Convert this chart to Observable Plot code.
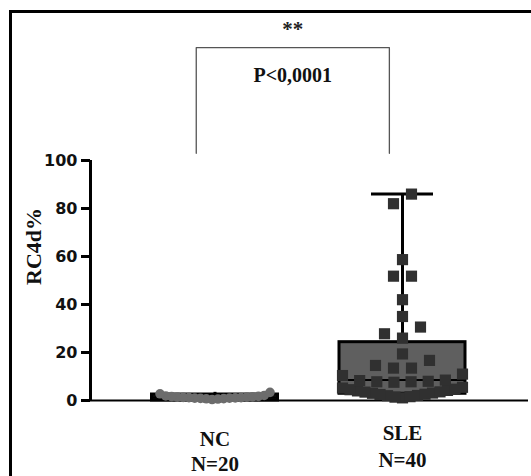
<!DOCTYPE html>
<html>
<head>
<meta charset="utf-8">
<script src="https://cdn.jsdelivr.net/npm/d3@7"></script>
<script src="https://cdn.jsdelivr.net/npm/@observablehq/plot@0.6"></script>
<style>
  html, body { margin: 0; padding: 0; background: #fff; }
  #wrap { position: relative; width: 531px; height: 476px; overflow: hidden; background: #fff; }
  #border { position: absolute; left: 9px; top: 10px; right: 0; bottom: 0;
            border-top: 3px solid #000; border-left: 3px solid #000; pointer-events: none; }
</style>
</head>
<body>
<div id="wrap"><div id="chart"></div><div id="border"></div></div>
<script>
// ---------- data ----------
const groups = ["NC", "SLE"];
const groupLabels = ["NC\nN=20", "SLE\nN=40"];
const ncValues = [0.4, 0.6, 0.7, 0.8, 0.9, 1.0, 1.0, 1.1, 1.2, 1.2,
                  1.3, 1.4, 1.4, 1.5, 1.6, 1.7, 1.9, 2.1, 2.8, 3.4];
const sleValues = [1.1, 1.4, 1.6, 2.0, 2.1, 2.5, 2.6, 3.0, 3.1, 3.5,
                   3.6, 4.0, 4.2, 4.5, 4.7, 5.2, 5.5,
                   7.6, 7.8, 7.8, 8.0, 8.3, 8.5, 10.4, 11.0,
                   13.5, 13.5, 14.6, 16.7, 19.4,
                   26.0, 27.8, 30.6, 35.0, 42.0, 51.8, 51.8, 58.7, 82.0, 86.0];
const boxQ1 = [0, 2.8];
const boxMedian = [1.2, 8.5];
const boxQ3 = [2.5, 24.3];
const whiskerMax = [3.4, 86];
const yTicks = [0, 20, 40, 60, 80, 100];
const yLabel = "RC4d%";
const bracketX = [0.9, 1.93];
const bracketY = [103, 147];
const annotX = 1.415;
const starsText = "**";
const starsY = 154.5;
const pText = "P<0,0001";
const pY = 135.3;

// ---------- layout ----------
const W = 531, H = 476;
const mL = 90, mR = 3, mT = 160, mB = 76;
const xDomain = [0.336, 2.672];
const pxPerUnit = (W - mL - mR) / (xDomain[1] - xDomain[0]);

// GraphPad-like scatter: rows of nearby values spread around the centre
function swarm(values, gi, rowH, sMax, maxW) {
  const sorted = values.slice().sort((a, b) => a - b);
  const rows = [];
  let cur = null;
  for (const v of sorted) {
    if (!cur || v - cur[0] > rowH) { cur = []; rows.push(cur); }
    cur.push(v);
  }
  const out = [];
  for (const row of rows) {
    const n = row.length;
    const s = n > 1 ? Math.min(sMax, maxW / (n - 1)) : 0;
    const slots = d3.range(n).map(k => (k - (n - 1) / 2) * s)
      .sort((a, b) => (Math.abs(a) - Math.abs(b)) || (a - b));
    row.forEach((v, i) => out.push({group: groups[gi], v, x: gi + 1 + slots[i] / pxPerUnit}));
  }
  return out;
}
const ncPts = swarm(ncValues, 0, 4.8, 18, 110);
const slePts = swarm(sleValues, 1, 4.8, 18, 120);

const boxes = groups.map((g, i) => ({
  group: g, c: i + 1, q1: boxQ1[i], med: boxMedian[i], q3: boxQ3[i], max: whiskerMax[i]
}));
const boxHalf = 63 / pxPerUnit;
const capHalf = 31 / pxPerUnit;
const labels = groups.map((g, i) => ({group: g, c: i + 1, label: groupLabels[i]}));
const bracketPts = [
  {x: bracketX[0], y: bracketY[0]}, {x: bracketX[0], y: bracketY[1]},
  {x: bracketX[1], y: bracketY[1]}, {x: bracketX[1], y: bracketY[0]}
];

const serif = "'Liberation Serif', 'Times New Roman', serif";
const sans = "'DejaVu Sans', sans-serif";

const chart = Plot.plot({
  width: W, height: H,
  marginLeft: mL, marginRight: mR, marginTop: mT, marginBottom: mB,
  style: {background: "#fff", color: "#000"},
  x: {domain: xDomain, axis: null},
  y: {domain: [0, 100], axis: null},
  marks: [
    // x baseline
    Plot.ruleY([0], {stroke: "#000", strokeWidth: 2}),
    // boxes
    Plot.rect(boxes, {
      x1: d => d.c - boxHalf, x2: d => d.c + boxHalf, y1: "q1", y2: "q3",
      fill: d => d.group === "NC" ? "#111" : "#5f5f5f", stroke: "#000", strokeWidth: 3
    }),
    // whiskers
    Plot.ruleX(boxes, {x: "c", y1: "q3", y2: "max", stroke: "#000", strokeWidth: 3}),
    Plot.ruleY(boxes.filter(d => d.group === "SLE"), {y: "max", x1: d => d.c - capHalf, x2: d => d.c + capHalf, stroke: "#000", strokeWidth: 3}),
    // medians
    Plot.ruleY(boxes, {y: "med", x1: d => d.c - boxHalf, x2: d => d.c + boxHalf, stroke: "#000", strokeWidth: 2}),
    // points
    Plot.dot(ncPts, {x: "x", y: "v", r: 4.8, fill: "#6c6c6c"}),
    Plot.dot(slePts, {x: "x", y: "v", symbol: "square", r: 6.3, fill: "#303030"}),
    // y axis: line, ticks, labels
    Plot.ruleX([xDomain[0]], {y1: 0, y2: 100, stroke: "#000", strokeWidth: 3}),
    Plot.ruleY(yTicks, {y: d => d, x1: xDomain[0], x2: xDomain[0], insetLeft: -9, stroke: "#000", strokeWidth: 3}),
    Plot.text(yTicks, {y: d => d, text: d => String(d), frameAnchor: "left", textAnchor: "end", dx: -13,
      fontFamily: sans, fontWeight: "bold", fontSize: 16, fill: "#111"}),
    // y label
    Plot.text([yLabel], {frameAnchor: "left", textAnchor: "middle", rotate: -90, dx: -57, dy: -34,
      fontFamily: serif, fontWeight: "bold", fontSize: 22, fill: "#111"}),
    // x labels
    Plot.text(labels.filter(d => d.group === "NC"), {x: "c", text: "label", frameAnchor: "bottom",
      lineAnchor: "top", dy: 28, lineHeight: 1.19, fontFamily: serif, fontWeight: "bold", fontSize: 21, fill: "#111"}),
    Plot.text(labels.filter(d => d.group === "SLE"), {x: "c", text: "label", frameAnchor: "bottom",
      lineAnchor: "top", dy: 20, lineHeight: 1.29, fontFamily: serif, fontWeight: "bold", fontSize: 21, fill: "#111"}),
    // significance bracket
    Plot.line(bracketPts, {x: "x", y: "y", stroke: "#555", strokeWidth: 1.3}),
    Plot.text([starsText], {x: [annotX], y: [starsY], fontFamily: serif, fontWeight: "bold", fontSize: 21, fill: "#222"}),
    Plot.text([pText], {x: [annotX], y: [pY], fontFamily: serif, fontWeight: "bold", fontSize: 20, fill: "#111"})
  ]
});
document.getElementById("chart").appendChild(chart);
</script>
</body>
</html>
